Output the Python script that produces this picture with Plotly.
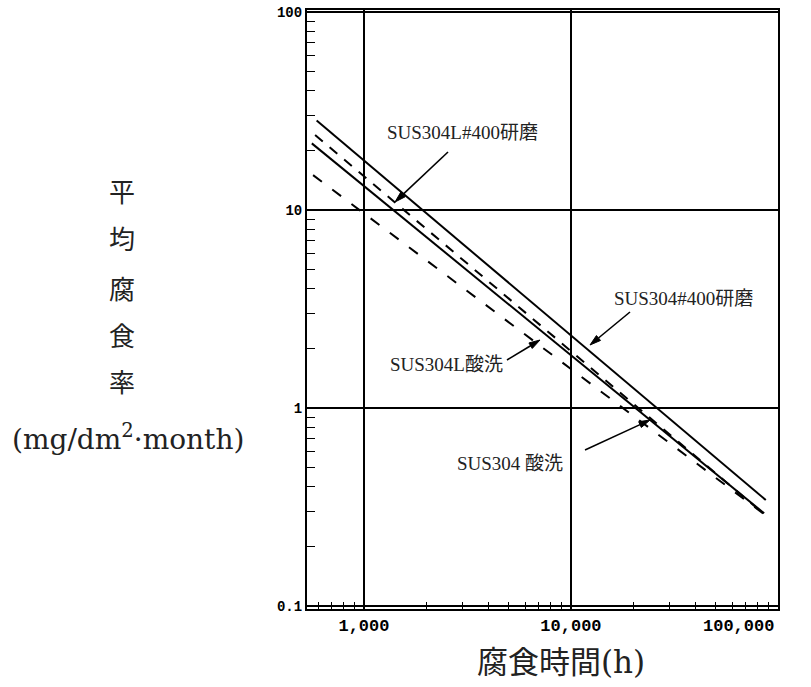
import math
import plotly.graph_objects as go

# ---- data ----
series_names = ["SUS304#400研磨", "SUS304L#400研磨", "SUS304 酸洗", "SUS304L酸洗"]
x_start = [591, 581, 560, 568]
y_start = [28.3, 23.9, 21.7, 15.0]
x_end = [87300, 85700, 85700, 85700]
y_end = [0.343, 0.291, 0.294, 0.291]
line_dash = ["solid", "10px,9px", "solid", "11px,13px"]

x_tickvals = [1000, 10000]
x_ticktext = ["1,000", "10,000"]
x_last_tick = 100000
x_last_text = "100,000"
y_tickvals = [0.1, 1, 10, 100]
y_ticktext = ["0.1", "1", "10", "100"]

# ---- layout geometry (page pixels) ----
W, H = 811, 687
PLOT_L, PLOT_R, PLOT_T, PLOT_B = 307, 778, 10, 609
L, R, T, B = PLOT_L, W - PLOT_R, PLOT_T, H - PLOT_B
PW, PH = PLOT_R - PLOT_L, PLOT_B - PLOT_T


def px(x):
    return (x - PLOT_L) / PW


def py(y):
    return (PLOT_B - y) / PH


SERIF = "Liberation Serif, Noto Sans CJK JP, serif"
TITLE = "DejaVu Serif, Noto Sans CJK JP, serif"
MONO = "Liberation Mono, Courier New, monospace"

fig = go.Figure()
for i, name in enumerate(series_names):
    fig.add_trace(go.Scatter(
        x=[x_start[i], x_end[i]], y=[y_start[i], y_end[i]],
        mode="lines", name=name,
        line=dict(color="black", width=2, dash=line_dash[i]),
        showlegend=False, hoverinfo="skip"))

annotations = []
shapes = []
# curve labels and arrows: text centre, arrow tail, arrow tip (page px)
labels = [
    ("SUS304L#400研磨", 462, 133, 448, 152, 395, 202),
    ("SUS304#400研磨", 683, 298, 630, 312, 590, 345),
    ("SUS304L酸洗", 446, 364, 507, 360, 540, 340),
    ("SUS304 酸洗", 510, 463, 585, 450, 650, 420),
]
for text, tx, ty, ax0, ay0, hx, hy in labels:
    annotations.append(dict(
        xref="paper", yref="paper", x=px(tx), y=py(ty), text=text,
        showarrow=False, xanchor="center", yanchor="middle",
        font=dict(family=SERIF, size=19, color="#222")))
    dx, dy = hx - ax0, hy - ay0
    n = math.hypot(dx, dy)
    ux, uy = dx / n, dy / n
    hl, hw = 11, 3.2
    bx, by = hx - hl * ux, hy - hl * uy
    shapes.append(dict(
        type="line", xref="paper", yref="paper",
        x0=px(ax0), y0=py(ay0), x1=px(bx), y1=py(by),
        line=dict(color="black", width=1.6)))
    p1 = (bx - hw * uy, by + hw * ux)
    p2 = (bx + hw * uy, by - hw * ux)
    path = "M {} {} L {} {} L {} {} Z".format(
        px(hx), py(hy), px(p1[0]), py(p1[1]), px(p2[0]), py(p2[1]))
    shapes.append(dict(
        type="path", xref="paper", yref="paper", path=path,
        fillcolor="black", line=dict(color="black", width=1)))

# last x tick label, kept inside the page like the reference
annotations.append(dict(
    xref="x", yref="paper", x=math.log10(x_last_tick), y=py(626),
    text=x_last_text, showarrow=False, xanchor="right", yanchor="middle",
    xshift=-2,
    font=dict(family=MONO, size=17, color="black", weight="bold")))

# y axis title (vertical characters)
for ch, yy in zip("平均腐食率", [193, 240, 290, 337, 383]):
    annotations.append(dict(
        xref="paper", yref="paper", x=px(122), y=py(yy), text=ch,
        showarrow=False, xanchor="center", yanchor="middle",
        font=dict(family=TITLE, size=26, color="#222")))
annotations.append(dict(
    xref="paper", yref="paper", x=px(128), y=py(437),
    text="(mg/dm<sup>2</sup>·month)",
    showarrow=False, xanchor="center", yanchor="middle",
    font=dict(family=TITLE, size=28, color="#222")))
# x axis title
annotations.append(dict(
    xref="paper", yref="paper", x=px(561), y=py(662), text="腐食時間(h)",
    showarrow=False, xanchor="center", yanchor="middle",
    font=dict(family=TITLE, size=31, color="#222")))

axis_common = dict(
    type="log", showgrid=True, gridcolor="black", gridwidth=1.5,
    showline=True, linecolor="black", linewidth=2, mirror=True,
    ticks="", zeroline=False, automargin=False,
)

fig.update_layout(
    width=W, height=H,
    margin=dict(l=L, r=R, t=T, b=B, pad=0),
    paper_bgcolor="white", plot_bgcolor="white",
    hovermode=False,
    xaxis=dict(**axis_common, range=[2.725, 5.0],
               tickvals=x_tickvals, ticktext=x_ticktext,
               tickfont=dict(family=MONO, size=17, color="black", weight="bold"),
               minor=dict(ticks="inside", ticklen=7, tickwidth=1.3,
                          tickcolor="black", dtick="D1", showgrid=False)),
    yaxis=dict(**axis_common, range=[-1.015, 2.01],
               tickvals=y_tickvals, ticktext=y_ticktext,
               tickfont=dict(family=MONO, size=14, color="black", weight="bold"),
               minor=dict(ticks="inside", ticklen=8, tickwidth=1.3,
                          tickcolor="black", dtick="D1", showgrid=False)),
    annotations=annotations,
    shapes=shapes,
)

fig.write_html("out.html",
               config={"displayModeBar": False},
               post_script="document.body.style.margin='0';"
                           "document.body.style.overflow='hidden';")
